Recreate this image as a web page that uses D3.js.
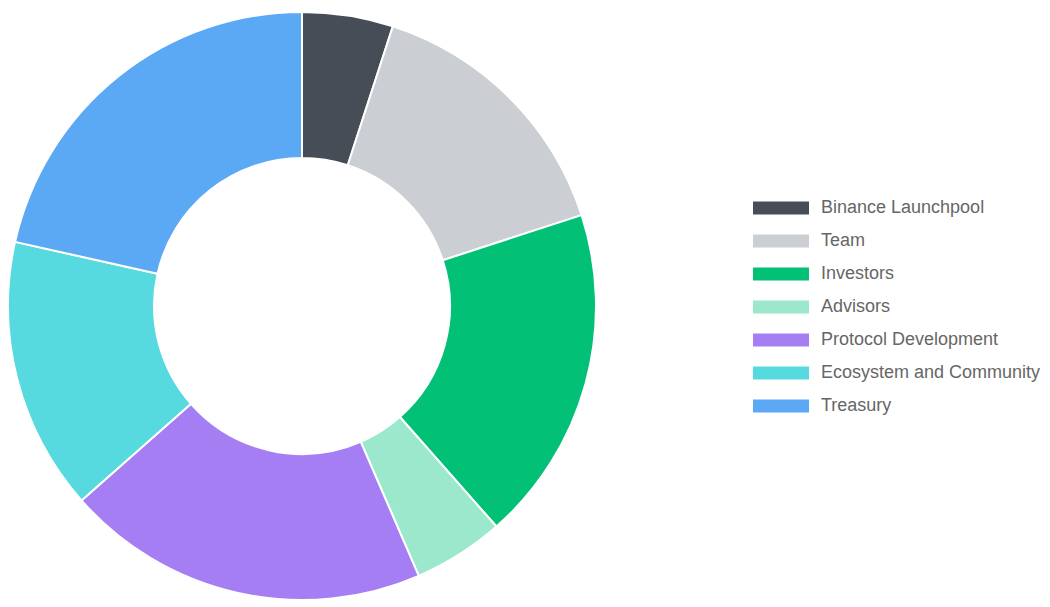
<!DOCTYPE html>
<html><head><meta charset="utf-8">
<script src="https://cdn.jsdelivr.net/npm/d3@7"></script>
<style>html,body{margin:0;padding:0;background:#fff;}svg{display:block;}</style>
</head><body>
<svg id="chart" width="1050" height="607"></svg>
<script>
const categories = ["Binance Launchpool","Team","Investors","Advisors","Protocol Development","Ecosystem and Community","Treasury"];
const values = [5, 15, 18.5, 5, 20, 15, 21.5];
const colors = ["#474D57","#CBCED3","#02C076","#9BE8CC","#A67EF4","#56DADF","#5BA8F5"];

const svg = d3.select("#chart");
const cx = 302, cy = 306, outerR = 294, innerR = 148;

const pie = d3.pie().sort(null).value(d => d)(values);
const arc = d3.arc().innerRadius(innerR).outerRadius(outerR);

const g = svg.append("g").attr("transform", `translate(${cx},${cy})`);
g.selectAll("path").data(pie).enter().append("path")
  .attr("d", arc)
  .attr("fill", (d,i) => colors[i])
  .attr("stroke", "#fff")
  .attr("stroke-width", 2)
  .attr("stroke-linejoin", "bevel");

const legendY = d3.scalePoint().domain(categories).range([208, 406]);
const lg = svg.append("g");
const items = lg.selectAll("g").data(categories).enter().append("g")
  .attr("transform", d => `translate(753,${legendY(d)})`);
items.append("rect").attr("x", 0).attr("y", -6.5).attr("width", 56).attr("height", 13)
  .attr("fill", (d,i) => colors[i]);
items.append("text").attr("x", 68).attr("y", -1).attr("dy", "0.36em")
  .attr("font-family", "Liberation Sans, Arial, Helvetica, sans-serif")
  .attr("font-size", 18).attr("fill", "#666").text(d => d);
</script>
</body></html>
